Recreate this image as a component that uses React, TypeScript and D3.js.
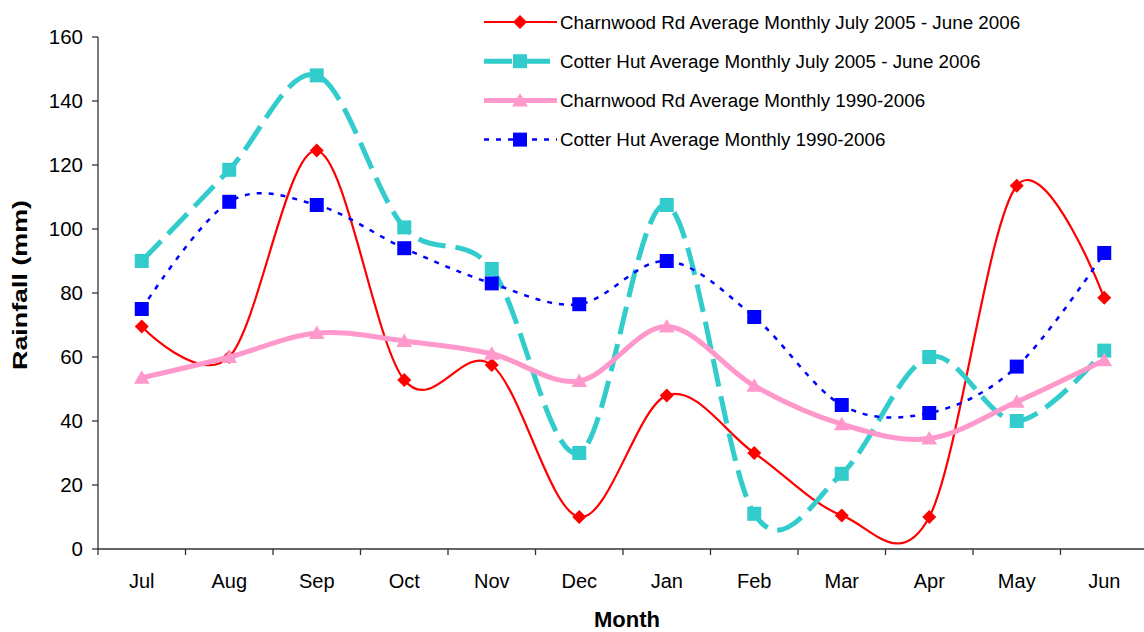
import * as d3 from 'd3'

const months = ['Jul', 'Aug', 'Sep', 'Oct', 'Nov', 'Dec', 'Jan', 'Feb', 'Mar', 'Apr', 'May', 'Jun']
const charnwood0506 = [69.5, 60, 124.5, 52.8, 57.5, 10, 48, 30, 10.5, 10, 113.5, 78.5]
const cotter0506 = [90, 118.5, 148, 100.5, 87.5, 30, 107.5, 11, 23.5, 60, 40, 62]
const charnwoodLong = [53.5, 60, 67.5, 65, 61, 52.5, 69.5, 51, 39, 34.5, 46, 59]
const cotterLong = [75, 108.5, 107.5, 94, 83, 76.5, 90, 72.5, 45, 42.5, 57, 92.5]
const yTicks = [0, 20, 40, 60, 80, 100, 120, 140, 160]

type Marker = 'diamond' | 'square' | 'triangle'

interface Series {
  name: string
  values: number[]
  color: string
  width: number
  dash?: string
  marker: Marker
  size: number
}

const series: Series[] = [
  { name: 'Charnwood Rd Average Monthly July 2005 - June 2006', values: charnwood0506, color: '#FF0000', width: 2.2, marker: 'diamond', size: 14 },
  { name: 'Cotter Hut Average Monthly July 2005 - June 2006', values: cotter0506, color: '#33CCCC', width: 5, dash: '28 10', marker: 'square', size: 14 },
  { name: 'Charnwood Rd Average Monthly 1990-2006', values: charnwoodLong, color: '#FF99CC', width: 5, marker: 'triangle', size: 15 },
  { name: 'Cotter Hut Average Monthly 1990-2006', values: cotterLong, color: '#0000FF', width: 2.5, dash: '5 7', marker: 'square', size: 14 },
]

const W = 1144
const H = 632
const left = 98
const right = 1148
const top = 37
const bottom = 549
const font = 'Liberation Sans, Arial, sans-serif'

function markerPath(kind: Marker, size: number): string {
  const h = size / 2
  if (kind === 'diamond') return `M0,${-h}L${h},0L0,${h}L${-h},0Z`
  if (kind === 'square') return `M${-h},${-h}H${h}V${h}H${-h}Z`
  return `M0,${-h}L${h * 1.05},${h * 0.8}L${-h * 1.05},${h * 0.8}Z`
}

export default function App() {
  const x = d3.scaleBand<string>().domain(months).range([left, right])
  const y = d3.scaleLinear().domain([0, 160]).range([bottom, top])
  const cx = (m: string) => (x(m) ?? 0) + x.bandwidth() / 2

  const line = d3
    .line<number>()
    .x((_, i) => cx(months[i]))
    .y((v) => y(v))
    .curve(d3.curveCardinal.tension(0))

  const tickEdges = d3.range(months.length + 1).map((i) => left + i * x.step())

  return (
    <svg width={W} height={H} style={{ position: 'absolute', left: 0, top: 0, background: '#fff' }} fontFamily={font}>
      {/* axes */}
      <line x1={left} x2={left} y1={top} y2={bottom} stroke="#333" strokeWidth={1.3} />
      <line x1={left} x2={W} y1={bottom} y2={bottom} stroke="#333" strokeWidth={1.3} />
      {yTicks.map((t) => (
        <g key={t}>
          <line x1={left - 6} x2={left} y1={y(t)} y2={y(t)} stroke="#333" strokeWidth={1.3} />
          <text x={83} y={y(t)} dy="0.36em" textAnchor="end" fontSize={20.5} fill="#000">
            {t}
          </text>
        </g>
      ))}
      {tickEdges.map((e, i) => (
        <line key={i} x1={e} x2={e} y1={bottom} y2={bottom + 6} stroke="#333" strokeWidth={1.3} />
      ))}
      {months.map((m) => (
        <text key={m} x={cx(m)} y={588} textAnchor="middle" fontSize={20} fill="#000">
          {m}
        </text>
      ))}
      <text x={627} y={627} textAnchor="middle" fontSize={22} fontWeight="bold">
        Month
      </text>
      <text
        transform="translate(27,285) rotate(-90)"
        textAnchor="middle"
        fontSize={20}
        fontWeight="bold"
        textLength={170}
        lengthAdjust="spacingAndGlyphs"
      >
        Rainfall (mm)
      </text>

      {/* series */}
      {series.map((s) => (
        <g key={s.name}>
          <path d={line(s.values) ?? ''} fill="none" stroke={s.color} strokeWidth={s.width} strokeDasharray={s.dash} />
          {s.values.map((v, i) => (
            <path key={i} d={markerPath(s.marker, s.size)} transform={`translate(${cx(months[i])},${y(v)})`} fill={s.color} />
          ))}
        </g>
      ))}

      {/* legend */}
      {series.map((s, i) => {
        const ly = 22 + i * 39.2
        return (
          <g key={s.name} transform={`translate(0,${ly})`}>
            <line x1={484} x2={557} y1={0} y2={0} stroke={s.color} strokeWidth={s.width} strokeDasharray={s.dash} />
            <path d={markerPath(s.marker, s.size)} transform="translate(520,0)" fill={s.color} />
            <text x={560} y={0} dy="0.36em" fontSize={18.8} fill="#000">
              {s.name}
            </text>
          </g>
        )
      })}
    </svg>
  )
}
